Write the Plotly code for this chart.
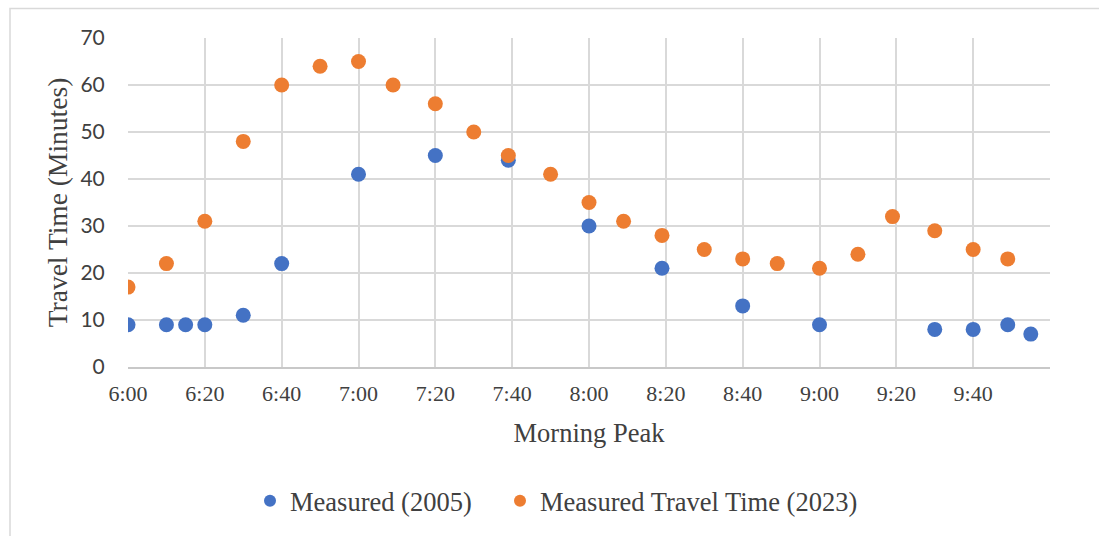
import plotly.graph_objects as go

# Times expressed as minutes after midnight
times_2005 = [360, 370, 375, 380, 390, 400, 420, 440, 459, 480, 499, 520, 540, 570, 580, 589, 595]
values_2005 = [9, 9, 9, 9, 11, 22, 41, 45, 44, 30, 21, 13, 9, 8, 8, 9, 7]

times_2023 = [360, 370, 380, 390, 400, 410, 420, 429, 440, 450, 459, 470, 480, 489, 499,
              510, 520, 529, 540, 550, 559, 570, 580, 589]
values_2023 = [17, 22, 31, 48, 60, 64, 65, 60, 56, 50, 45, 41, 35, 31, 28,
               25, 23, 22, 21, 24, 32, 29, 25, 23]

tick_vals = [360, 380, 400, 420, 440, 460, 480, 500, 520, 540, 560, 580]
tick_text = ["6:00", "6:20", "6:40", "7:00", "7:20", "7:40", "8:00", "8:20", "8:40", "9:00", "9:20", "9:40"]

BLUE = "#4472C4"
ORANGE = "#ED7D31"
SERIF = "Liberation Serif, Times New Roman, serif"
SANS = "Lato, Liberation Sans, sans-serif"

fig = go.Figure()
fig.add_trace(go.Scatter(x=times_2005, y=values_2005, mode="markers", name="Measured (2005)",
                         marker=dict(color=BLUE, size=15), legend="legend"))
fig.add_trace(go.Scatter(x=times_2023, y=values_2023, mode="markers", name="Measured Travel Time (2023)",
                         marker=dict(color=ORANGE, size=15), legend="legend2"))

W, H = 1099, 536
L, R, T, B = 128, 49, 38, 169
pw, ph = W - L - R, H - T - B

def px_x(p):
    return (p - L) / pw

def px_y(p):
    return (H - B - p) / ph

legend_style = dict(orientation="h", xanchor="left", y=px_y(501), yanchor="middle",
                    font=dict(family=SERIF, size=26.5, color="#404040"),
                    itemsizing="constant", bgcolor="rgba(0,0,0,0)")

fig.update_layout(
    width=W, height=H,
    margin=dict(l=L, r=R, t=T, b=B, autoexpand=False),
    paper_bgcolor="white", plot_bgcolor="white",
    showlegend=True,
    legend=dict(x=px_x(250), **legend_style),
    legend2=dict(x=px_x(500), **legend_style),
    xaxis=dict(range=[360, 600], tickvals=tick_vals, ticktext=tick_text,
               showgrid=True, gridcolor="#d9d9d9", gridwidth=1.5,
               showline=True, linecolor="#c8c8c8", linewidth=1.5,
               ticks="outside", ticklen=6, tickcolor="rgba(0,0,0,0)",
               tickfont=dict(family=SERIF, size=22, color="#404040"),
               title=dict(text="Morning Peak", font=dict(family=SERIF, size=26.5, color="#404040"), standoff=18),
               zeroline=False, automargin=False),
    yaxis=dict(range=[0, 70], tickvals=[0, 10, 20, 30, 40, 50, 60, 70],
               showgrid=True, gridcolor="#d9d9d9", gridwidth=1.5,
               showline=False, zeroline=False,
               ticks="outside", ticklen=18, tickcolor="rgba(0,0,0,0)",
               tickfont=dict(family=SANS, size=21, color="#404040"),
               title=dict(text="Travel Time (Minutes)", font=dict(family=SERIF, size=27.5, color="#404040"), standoff=4),
               automargin=False),
    shapes=[dict(type="rect", xref="paper", yref="paper",
                 x0=px_x(10), x1=px_x(W + 5), y0=px_y(H + 5), y1=px_y(8.5),
                 line=dict(color="#d9d9d9", width=1.5), fillcolor="rgba(0,0,0,0)", layer="below")],
)

fig.write_html("out.html")
